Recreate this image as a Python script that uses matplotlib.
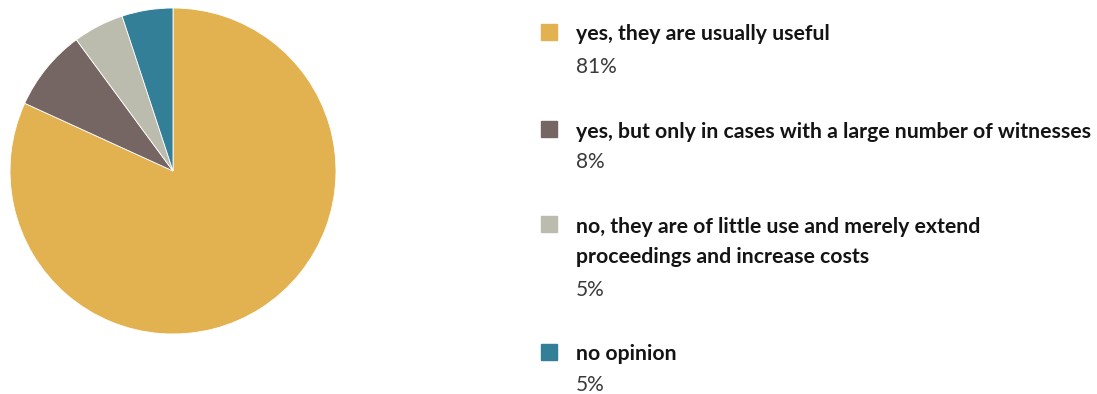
import matplotlib
matplotlib.use("Agg")
import matplotlib.pyplot as plt
from matplotlib.patches import Rectangle

labels = [
    "yes, they are usually useful",
    "yes, but only in cases with a large number of witnesses",
    "no, they are of little use and merely extend\nproceedings and increase costs",
    "no opinion",
]
values = [81, 8, 5, 5]
colors = ["#E3B250", "#766663", "#BCBCAE", "#347F98"]

W, H = 1097, 394
fig = plt.figure(figsize=(W / 100, H / 100), dpi=100)

# pie: centre (173, 171) px, radius 163 px
cx, cy, r = 173, 171, 163
ax = fig.add_axes([(cx - r) / W, (H - cy - r) / H, 2 * r / W, 2 * r / H])
ax.pie(values, colors=colors, startangle=90, counterclock=False, radius=1,
       wedgeprops=dict(edgecolor="white", linewidth=0.6))
ax.set_xlim(-1, 1)
ax.set_ylim(-1, 1)
ax.set_aspect("equal")
ax.axis("off")

# legend entries: (square top y, label y, percent y) in pixels
rows = [(24, 34, 67), (121, 132, 162), (216, [227, 257], 290), (344, 354, 385)]
for (sq_y, ly, py), lab, val, col in zip(rows, labels, values, colors):
    fig.patches.append(Rectangle((541 / W, (H - sq_y - 16) / H), 16 / W, 16 / H,
                                 transform=fig.transFigure, color=col))
    lines = lab.split("\n")
    ys = ly if isinstance(ly, list) else [ly]
    for t, y in zip(lines, ys):
        fig.text(576 / W, (H - y) / H, t, fontsize=15.3, fontweight="bold",
                 family="Lato", color="#141414", va="center", ha="left")
    fig.text(576 / W, (H - py) / H, f"{val}%", fontsize=15, fontweight="normal",
             family="Lato", color="#3a3a3a", va="center", ha="left")

fig.savefig("out.png", dpi=100)
